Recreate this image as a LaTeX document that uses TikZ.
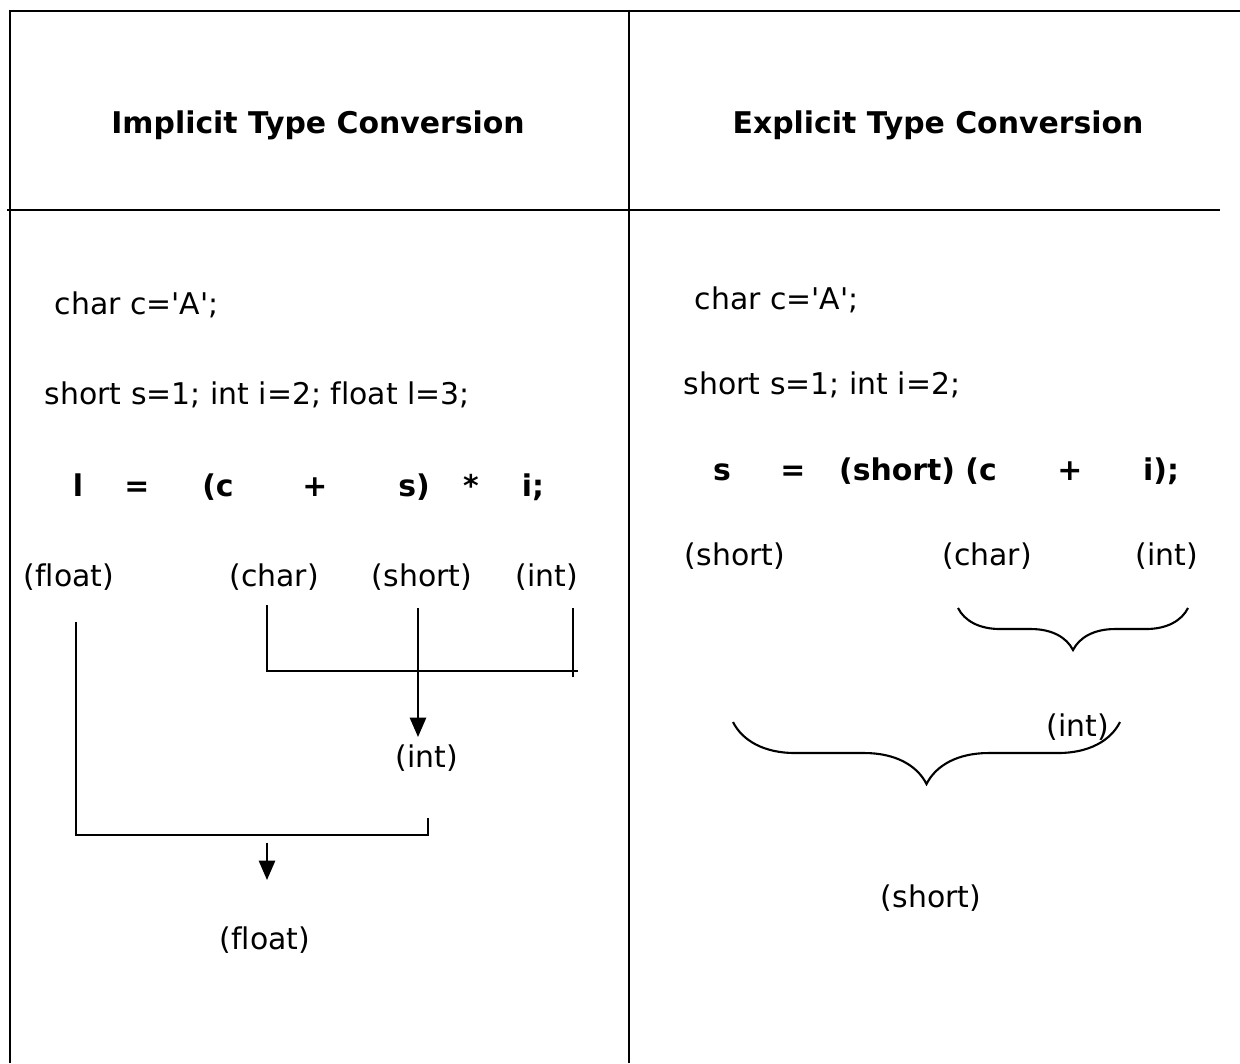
\documentclass[tikz,border=0pt]{standalone}
\usepackage{fontspec}
\setmainfont{DejaVu Sans}[Ligatures=NoCommon]
\usepackage{tikz}
\usetikzlibrary{calc, arrows.meta, positioning, decorations.pathreplacing}

\begin{document}
\begin{tikzpicture}[x=0.01cm, y=-0.01cm, font=\fontsize{8.5}{10}\selectfont,
			title/.style={font=\fontsize{8.5}{10}\selectfont\bfseries, anchor=base},
			code/.style={anchor=base west, inner xsep=0pt},
			expr/.style={font=\fontsize{8.5}{10}\selectfont\bfseries, anchor=base},
			typ/.style={anchor=base},
			frame/.style={line width=0.6pt, black},
			link/.style={line width=0.6pt, black},
			conv/.style={line width=0.6pt, black, -{Triangle[length=5.5pt, width=4.6pt]}},
			grp/.style={line width=0.6pt, black, decorate, decoration={brace, amplitude=#1}}
			]
			\useasboundingbox (0,0) rectangle (1240,1063);
			
			% table frame
			\draw[frame] (10,1063) -- (10,11) -- (1240,11);
			\draw[frame] (629,11) -- (629,1063);
			\draw[frame] (7,210) -- (1220,210);
			
			\node [title](timp) at (318,133) {Implicit Type Conversion};
			\node [title](texp) at (938,133) {Explicit Type Conversion};
			
			% implicit
			\node [code](dc1) at (54,314) {char c=\textquotesingle A\textquotesingle;};
			\node [code](dv1) at (44,404) {short s=1; int i=2; float l=3;};
			
			\node [expr](el) at (78,496) {l};
			\node [expr](eeq) at (137,496) {=};
			\node [expr](ec) at (218,496) {(c};
			\node [expr](eplus) at (315,496) {+};
			\node [expr](es) at (414,496) {s)};
			\node [expr](emul) at (471,496) {*};
			\node [expr](ei) at (533,496) {i;};
			
			\node [typ](tfl) at (69,586) {(float)};
			\node [typ](tch) at (274,586) {(char)};
			\node [typ](tsh) at (422,586) {(short)};
			\node [typ](tin) at (547,586) {(int)};
			
			\node [typ](rint) at (427,767) {(int)};
			\node [typ](rfl) at (265,949) {(float)};
			
			\coordinate (fa) at (76,622);
			\coordinate (fb) at (76,835);
			\coordinate (ia) at (428,818);
			\coordinate (ib) at (428,835);
			\coordinate (ca) at (267,605);
			\coordinate (cb) at (267,671);
			\coordinate (cc) at (578,671);
			\coordinate (na) at (573,608);
			\coordinate (nb) at (573,677);
			\coordinate (sa) at (418,608);
			\coordinate (sb) at (418,737);
			\coordinate (da) at (267,843);
			\coordinate (db) at (267,880);
			
			\draw[link] (ca) -- (cb) -- (cc);
			\draw[link] (na) -- (nb);
			\draw[conv] (sa) -- (sb);
			\draw[link] (fa) -- (fb) -- (ib) -- (ia);
			\draw[conv] (da) -- (db);
			
			% explicit
			\node [code](dc2) at (694,309) {char c=\textquotesingle A\textquotesingle;};
			\node [code](dv2) at (683,394) {short s=1; int i=2;};
			
			\node [expr](xs) at (722,480) {s};
			\node [expr](xeq) at (793,480) {=};
			\node [expr](xcast) at (918,480) {(short) (c};
			\node [expr](xplus) at (1070,480) {+};
			\node [expr](xi) at (1161,480) {i);};
			
			\node [typ](ush) at (735,565) {(short)};
			\node [typ](uch) at (987,565) {(char)};
			\node [typ](uin) at (1167,565) {(int)};
			
			\node [typ](vint) at (1078,736) {(int)};
			\node [typ](vsh) at (931,907) {(short)};
			
			\coordinate (b1r) at (1188,608);
			\coordinate (b1l) at (958,608);
			\coordinate (b2r) at (1120,722);
			\coordinate (b2l) at (733,722);
			
			\draw[grp=0.42cm] (b1r) -- (b1l);
			\draw[grp=0.62cm] (b2r) -- (b2l);
			
		\end{tikzpicture}
\end{document}
